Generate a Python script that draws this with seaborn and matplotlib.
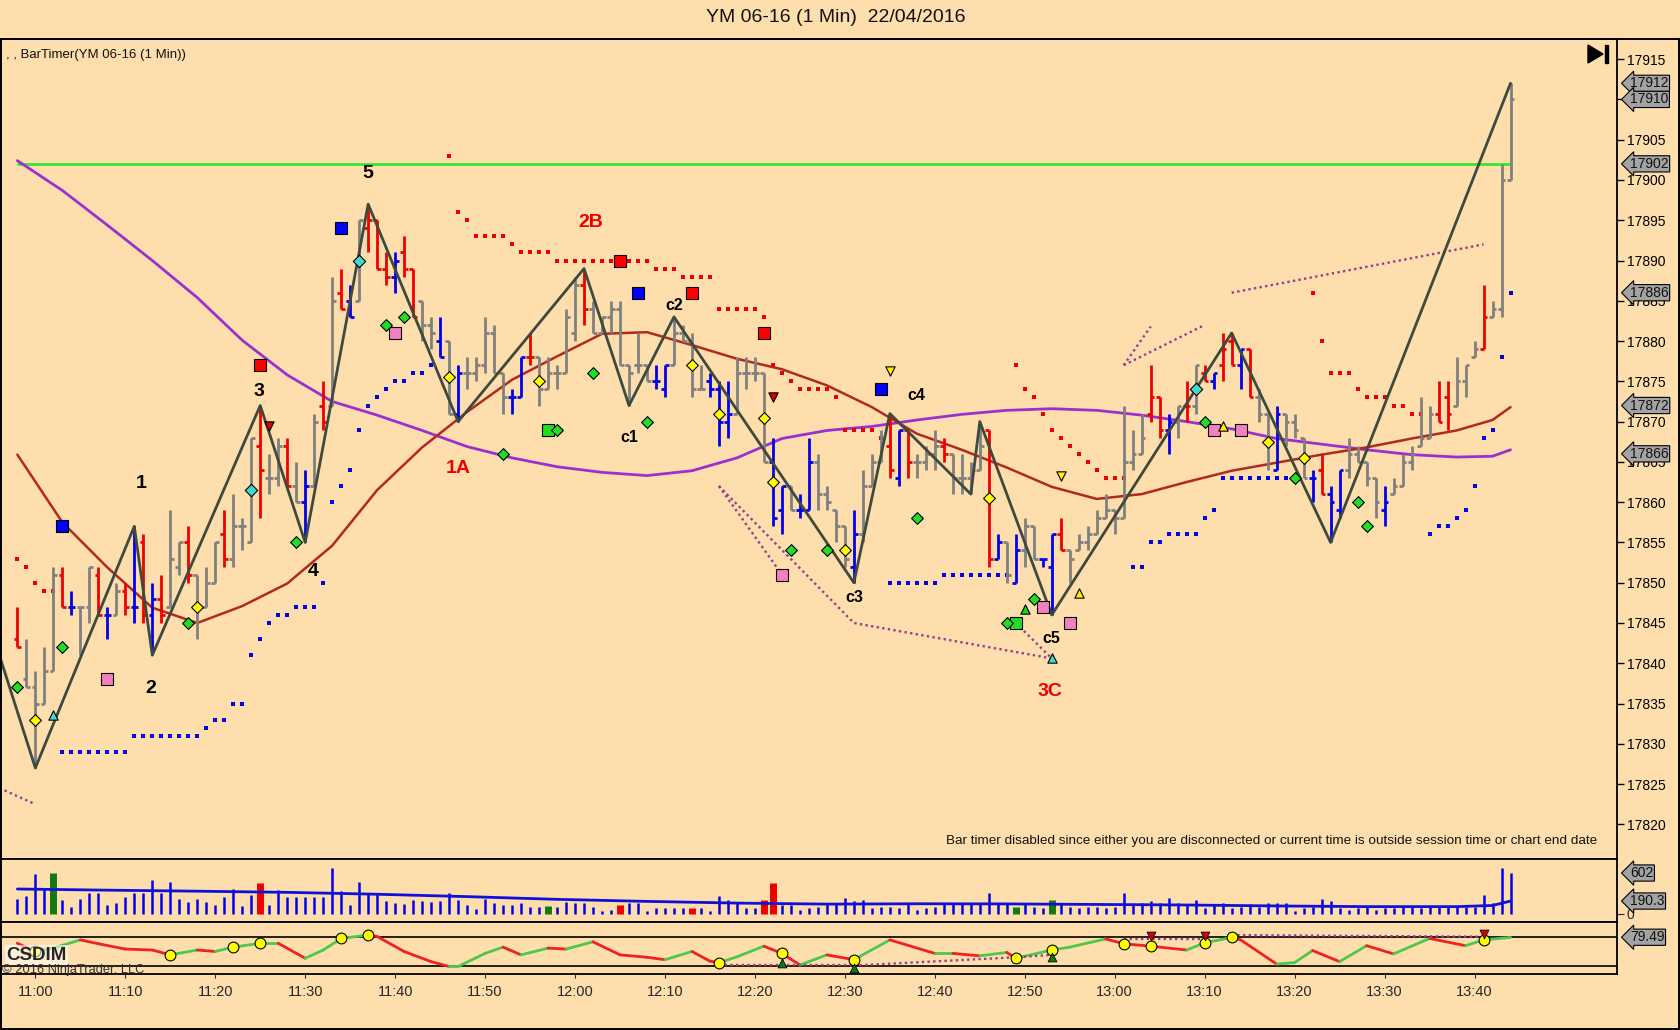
import matplotlib
matplotlib.use("Agg")
import matplotlib.pyplot as plt
from matplotlib.patches import Rectangle, Polygon
import seaborn as sns

BG = "#FFDEAD"

# ---------------- data (minutes after 11:00, first bar 10:58) ----------------
minutes = list(range(-2, 165))

opens = [17843, 17838, 17837, 17835, 17839, 17851, 17847, 17847, 17847, 17851,
         17846, 17846, 17849, 17847, 17855, 17846, 17848, 17847, 17852, 17855,
         17851, 17847, 17850, 17856, 17853, 17857, 17855, 17867, 17863, 17863,
         17867, 17862, 17860, 17862, 17872, 17872, 17886, 17885, 17885, 17894,
         17895, 17889, 17888, 17891, 17889, 17885, 17882, 17880, 17880, 17871,
         17876, 17876, 17877, 17881, 17876, 17873, 17873, 17878, 17878, 17874,
         17876, 17876, 17881, 17887, 17884, 17881, 17883, 17884, 17877, 17877,
         17877, 17875, 17874, 17877, 17881, 17880, 17874, 17875, 17874, 17870,
         17871, 17876, 17876, 17876, 17865, 17859, 17862, 17859, 17859, 17865,
         17861, 17859, 17857, 17852, 17856, 17862, 17865, 17867, 17863, 17869,
         17865, 17865, 17866, 17867, 17866, 17863, 17863, 17864, 17869, 17853,
         17855, 17850, 17854, 17857, 17853, 17852, 17856, 17854, 17854, 17855,
         17856, 17858, 17859, 17858, 17865, 17866, 17871, 17873, 17869, 17870,
         17872, 17872, 17876, 17875, 17877, 17880, 17877, 17879, 17873, 17871,
         17864, 17871, 17870, 17868, 17863, 17864, 17861, 17859, 17864, 17866,
         17865, 17863, 17859, 17861, 17862, 17865, 17867, 17868, 17871, 17873,
         17872, 17875, 17878, 17879, 17883, 17884, 17900]
highs = [17847, 17843, 17839, 17842, 17852, 17852, 17849, 17847, 17852, 17852,
         17847, 17850, 17850, 17857, 17856, 17850, 17851, 17859, 17855, 17857,
         17851, 17852, 17855, 17859, 17861, 17858, 17868, 17872, 17866, 17868,
         17868, 17865, 17864, 17871, 17875, 17888, 17889, 17887, 17895, 17897,
         17895, 17891, 17891, 17893, 17889, 17885, 17883, 17883, 17880, 17877,
         17878, 17878, 17883, 17882, 17876, 17874, 17878, 17881, 17878, 17878,
         17877, 17884, 17888, 17889, 17885, 17883, 17885, 17885, 17877, 17881,
         17877, 17877, 17877, 17883, 17882, 17881, 17877, 17876, 17875, 17875,
         17878, 17878, 17878, 17876, 17868, 17862, 17862, 17861, 17868, 17866,
         17862, 17859, 17857, 17859, 17864, 17866, 17869, 17871, 17869, 17869,
         17866, 17867, 17869, 17868, 17866, 17866, 17865, 17870, 17869, 17856,
         17855, 17856, 17858, 17857, 17853, 17856, 17858, 17854, 17856, 17857,
         17859, 17861, 17859, 17872, 17869, 17871, 17877, 17873, 17871, 17872,
         17875, 17877, 17877, 17876, 17881, 17881, 17879, 17879, 17874, 17871,
         17872, 17871, 17871, 17868, 17864, 17866, 17862, 17864, 17868, 17867,
         17865, 17863, 17862, 17863, 17866, 17867, 17873, 17872, 17875, 17875,
         17878, 17877, 17880, 17887, 17885, 17902, 17912]
lows = [17842, 17837, 17827, 17835, 17839, 17847, 17846, 17841, 17845, 17846,
        17843, 17846, 17846, 17845, 17845, 17841, 17845, 17847, 17851, 17850,
        17843, 17847, 17850, 17852, 17852, 17854, 17855, 17858, 17861, 17862,
        17862, 17860, 17855, 17862, 17869, 17872, 17884, 17883, 17885, 17891,
        17889, 17887, 17886, 17888, 17883, 17880, 17879, 17878, 17871, 17870,
        17874, 17875, 17876, 17876, 17871, 17871, 17873, 17877, 17872, 17874,
        17874, 17876, 17880, 17882, 17881, 17881, 17881, 17877, 17872, 17876,
        17875, 17874, 17873, 17877, 17880, 17873, 17874, 17873, 17867, 17868,
        17871, 17874, 17875, 17865, 17857, 17856, 17859, 17858, 17859, 17859,
        17859, 17855, 17852, 17850, 17855, 17862, 17865, 17863, 17862, 17863,
        17863, 17864, 17864, 17865, 17861, 17861, 17861, 17864, 17852, 17853,
        17850, 17850, 17852, 17853, 17852, 17846, 17854, 17850, 17854, 17854,
        17856, 17858, 17856, 17858, 17864, 17866, 17870, 17868, 17866, 17868,
        17870, 17871, 17875, 17874, 17875, 17877, 17874, 17873, 17870, 17864,
        17864, 17867, 17868, 17863, 17860, 17861, 17855, 17858, 17863, 17865,
        17862, 17858, 17857, 17861, 17862, 17864, 17867, 17868, 17870, 17869,
        17872, 17873, 17878, 17879, 17883, 17883, 17900]
closes = [17842, 17837, 17835, 17839, 17851, 17847, 17847, 17847, 17852, 17846,
          17846, 17849, 17847, 17847, 17846, 17848, 17846, 17853, 17855, 17851,
          17847, 17850, 17855, 17853, 17857, 17857, 17868, 17864, 17863, 17867,
          17862, 17860, 17862, 17870, 17870, 17885, 17884, 17883, 17895, 17895,
          17889, 17888, 17890, 17889, 17883, 17882, 17881, 17878, 17871, 17876,
          17876, 17877, 17881, 17876, 17873, 17873, 17878, 17878, 17874, 17876,
          17876, 17883, 17887, 17884, 17881, 17883, 17884, 17877, 17876, 17877,
          17875, 17875, 17877, 17881, 17880, 17874, 17874, 17874, 17870, 17871,
          17876, 17876, 17876, 17865, 17858, 17862, 17859, 17859, 17865, 17861,
          17860, 17857, 17853, 17856, 17862, 17865, 17868, 17864, 17869, 17865,
          17865, 17866, 17867, 17866, 17863, 17863, 17864, 17867, 17853, 17855,
          17851, 17854, 17857, 17853, 17853, 17856, 17854, 17853, 17855, 17856,
          17858, 17859, 17858, 17865, 17866, 17868, 17873, 17869, 17870, 17872,
          17872, 17877, 17875, 17876, 17879, 17877, 17879, 17873, 17871, 17868,
          17871, 17870, 17869, 17863, 17863, 17861, 17860, 17864, 17866, 17865,
          17863, 17860, 17860, 17862, 17865, 17866, 17868, 17871, 17870, 17871,
          17875, 17877, 17879, 17883, 17884, 17900, 17910]
# g = gray, r = red, b = blue bar
bar_kind = ("rggggrbggr" "bgrbrbrggr" "gggrgggrgg" "rgbgrgrbgr" "rrbrrggbgb"
            "gggggbbrgg" "gggrgggggg" "gbbggggbbb" "ggggbbgbbg" "gggbgggrbr"
            "gggrggggrb" "gbggbbrggg" "ggggggrrbg" "rgrbrrbrgg" "bgggbrbbgg"
            "ggbgggggrr" "gggrggg")

volume = [220, 265, 588, 367, 602, 206, 98, 217, 313, 313,
          132, 166, 245, 304, 304, 500, 304, 470, 217, 176,
          225, 176, 132, 245, 363, 122, 284, 456, 132, 353,
          245, 245, 245, 245, 255, 676, 343, 132, 465, 304,
          304, 186, 166, 147, 206, 186, 176, 186, 313, 206,
          132, 73, 225, 166, 127, 137, 157, 98, 108, 113,
          108, 176, 166, 166, 98, 49, 59, 132, 157, 157,
          49, 83, 83, 83, 83, 83, 83, 49, 265, 206,
          176, 83, 83, 206, 451, 132, 132, 59, 83, 108,
          142, 157, 240, 191, 206, 93, 108, 108, 93, 142,
          59, 83, 108, 142, 157, 157, 167, 157, 313, 157,
          167, 108, 142, 108, 83, 206, 167, 108, 93, 108,
          108, 83, 108, 313, 142, 157, 191, 157, 230, 157,
          142, 206, 93, 142, 157, 93, 108, 142, 108, 157,
          157, 167, 49, 83, 108, 216, 191, 93, 59, 93,
          108, 59, 83, 83, 108, 108, 93, 108, 108, 108,
          108, 108, 108, 279, 157, 680, 602]
vol_green = [2, 57, 109, 113]
vol_red = [25, 65, 73, 81, 82]
vma_m = [-2, 8, 18, 28, 38, 48, 58, 68, 78, 88, 98, 108, 118, 128, 138, 148, 158, 162, 164]
vma_v = [367, 350, 335, 318, 290, 255, 215, 185, 160, 145, 150, 148, 140, 132, 118, 108, 108, 125, 190]

# moving averages read every 5 minutes
ma_m = [-2, 3, 8, 13, 18, 23, 28, 33, 38, 43, 48, 53, 58, 63, 68, 73, 78, 83, 88,
        93, 98, 103, 108, 113, 118, 123, 128, 133, 138, 143, 148, 153, 158, 162, 164]
ma_slow = [17902.4, 17898.7, 17894.4, 17890.0, 17885.4, 17880.1, 17875.8, 17872.5,
           17870.8, 17868.9, 17866.9, 17865.5, 17864.4, 17863.7, 17863.3, 17863.9,
           17865.5, 17867.9, 17868.9, 17869.4, 17870.2, 17870.9, 17871.4, 17871.6,
           17871.4, 17870.8, 17870.0, 17869.1, 17867.9, 17867.2, 17866.5, 17865.9,
           17865.6, 17865.7, 17866.5]
ma_fast = [17865.9, 17857.5, 17851.9, 17846.9, 17845.0, 17847.1, 17849.9, 17854.6,
           17861.5, 17866.8, 17871.2, 17875.2, 17878.1, 17880.9, 17881.1, 17879.5,
           17877.8, 17876.5, 17874.5, 17871.8, 17868.5, 17866.5, 17864.3, 17861.9,
           17860.4, 17861.0, 17862.5, 17863.9, 17864.9, 17865.9, 17866.8, 17867.9,
           17868.9, 17870.2, 17871.8]

# zigzag swing points
zz_m = [-4, 0, 11, 13, 25, 30, 37, 47, 61, 66, 71, 91, 95, 104, 105, 113, 133, 144, 164]
zz_p = [17841, 17827, 17857, 17841, 17872, 17855, 17897, 17870, 17889, 17872, 17883,
        17850, 17871, 17861, 17870, 17846, 17881, 17855, 17912]

# stop dots
red_dot_m = [-2, -1, 0, 1, 2,
             46, 47, 48, 49, 50, 51, 52, 53, 54, 55, 56, 57, 58, 59, 60, 61, 62, 63, 64,
             65, 66, 67, 68, 69, 70, 71, 72, 73, 74, 75, 76, 77, 78, 79, 80, 81, 82, 83,
             84, 85, 86, 87, 88, 89, 90, 91, 92, 93, 94,
             109, 110, 111, 112, 113, 114, 115, 116, 117, 118, 119, 120, 121,
             142, 143, 144, 145, 146, 147, 148, 149, 150, 151, 152, 153, 154]
red_dot_p = [17853, 17852, 17850, 17849, 17849,
             17903, 17896, 17895, 17893, 17893, 17893, 17893, 17892, 17891, 17891, 17891,
             17891, 17890, 17890, 17890, 17890, 17890, 17890, 17890, 17890, 17890, 17890,
             17890, 17889, 17889, 17889, 17888, 17888, 17888, 17888, 17884, 17884, 17884,
             17884, 17884, 17883, 17877, 17876, 17875, 17874, 17874, 17874, 17874, 17873,
             17869, 17869, 17869, 17869, 17868,
             17877, 17874, 17873, 17871, 17869, 17868, 17867, 17866, 17865, 17864, 17863,
             17863, 17863,
             17886, 17880, 17876, 17876, 17876, 17874, 17873, 17873, 17873, 17872, 17872,
             17871, 17871]
blue_dot_m = [3, 4, 5, 6, 7, 8, 9, 10, 11, 12, 13, 14, 15, 16, 17, 18, 19, 20, 21, 22, 23,
              24, 25, 26, 27, 28, 29, 30, 31, 32, 33, 34, 35, 36, 37, 38, 39, 40, 41, 42,
              43, 44,
              95, 96, 97, 98, 99, 100, 101, 102, 103, 104, 105, 106, 107, 108,
              122, 123, 124, 125, 126, 127, 128, 129, 130, 131, 132, 133, 134, 135, 136,
              137, 138, 139,
              155, 156, 157, 158, 159, 160, 161, 162, 163, 164]
blue_dot_p = [17829, 17829, 17829, 17829, 17829, 17829, 17829, 17829, 17831, 17831, 17831,
              17831, 17831, 17831, 17831, 17831, 17832, 17833, 17833, 17835, 17835,
              17841, 17843, 17845, 17846, 17846, 17847, 17847, 17847, 17850, 17860, 17862,
              17864, 17869, 17872, 17873, 17874, 17875, 17875, 17876, 17876, 17877,
              17850, 17850, 17850, 17850, 17850, 17850, 17851, 17851, 17851, 17851, 17851,
              17851, 17851, 17851,
              17852, 17852, 17855, 17855, 17856, 17856, 17856, 17856, 17858, 17859, 17863,
              17863, 17863, 17863, 17863, 17863, 17863, 17863,
              17856, 17857, 17857, 17858, 17859, 17862, 17868, 17869, 17878, 17886]

# signal markers
blue_sq_m, blue_sq_p = [3, 34, 67, 94], [17857, 17894, 17886, 17874]
red_sq_m, red_sq_p = [25, 65, 73, 81], [17877, 17890, 17886, 17881]
pink_sq_m = [8, 40, 83, 112, 115, 131, 134]
pink_sq_p = [17838, 17881, 17851, 17847, 17845, 17869, 17869]
green_sq_m, green_sq_p = [57, 109], [17869, 17845]
green_dia_m = [-2, 3, 17, 29, 39, 41, 52, 58, 62, 68, 84, 88, 98, 108, 111, 130, 140, 147, 148]
green_dia_p = [17837, 17842, 17845, 17855, 17882, 17883, 17866, 17869, 17876, 17870, 17854,
               17854, 17858, 17845, 17848, 17870, 17863, 17860, 17857]
yellow_dia_m = [0, 18, 46, 56, 73, 76, 81, 82, 90, 106, 137, 141]
yellow_dia_p = [17833, 17847, 17875.6, 17875, 17877, 17871, 17870.4, 17862.5, 17854,
                17860.5, 17867.5, 17865.5]
cyan_dia_m, cyan_dia_p = [24, 36, 129], [17861.5, 17890, 17874]
red_dn_m, red_dn_p = [26, 82], [17869.4, 17873]
yellow_dn_m, yellow_dn_p = [95, 114], [17876.3, 17863.3]
yellow_up_m, yellow_up_p = [116, 132], [17848.7, 17869.5]
cyan_up_m, cyan_up_p = [2, 113], [17833.6, 17840.6]
green_up_m, green_up_p = [110], [17846.7]

# dotted divergence lines
div_lines = [([-4, 0], [17824.5, 17822.5]),
             ([76, 83], [17862, 17851]),
             ([76, 91, 113], [17862, 17845, 17840.6]),
             ([109, 113], [17845, 17840.6]),
             ([121, 124], [17877, 17881.8]),
             ([121, 130], [17877, 17882]),
             ([133, 161], [17886, 17892])]

# wave labels: text, zigzag index
wave_labels = [("1", 2), ("2", 3), ("3", 4), ("4", 5), ("5", 6), ("1A", 7), ("2B", 8),
               ("c1", 9), ("c2", 10), ("c3", 11), ("c4", 12), ("c5", 15), ("3C", 15)]

# oscillator
osc_m = [-2, 0, 2, 5, 7, 10, 13, 15, 18, 20, 22, 25, 27, 30, 32, 34, 37, 38, 41, 44,
         46, 47, 50, 52, 54, 57, 59, 62, 65, 68, 70, 73, 75, 76, 78, 81, 83, 85, 88, 91,
         95, 100, 102, 105, 108, 109, 113, 115, 119, 121, 124, 128, 130, 133, 134, 138,
         140, 142, 145, 148, 151, 155, 159, 161, 164]
osc_v = [67, 50, 57, 74, 66, 55, 53, 43, 53, 50, 59, 67, 67, 36, 53, 77, 84, 81, 50, 29,
         19, 19, 46, 59, 43, 57, 55, 70, 43, 38, 33, 50, 30, 27, 39, 61, 46, 22, 43, 33,
         74, 46, 46, 41, 48, 36, 53, 59, 76, 66, 61, 53, 68, 79, 74, 24, 27, 52, 29, 62,
         45, 77, 62, 74, 79]
osc_dot_m = [0, 15, 22, 25, 34, 37, 76, 83, 91, 109, 113, 121, 124, 130, 133, 161]
osc_dot_v = [50, 43, 59, 67, 77, 84, 27, 46, 33, 36, 53, 66, 61, 68, 79, 74]
osc_up_m, osc_up_v = [83, 91, 113], [26, 15, 38]
osc_dn_m, osc_dn_v = [124, 130, 161], [83, 83, 87]
osc_div = [([76, 91], [21, 21]), ([91, 109, 113], [21, 38, 43]),
           ([121, 130], [76, 76]), ([133, 161], [84, 80.5])]

time_ticks = list(range(0, 161, 10))
time_labels = ["%d:%02d" % (11 + t // 60, t % 60) for t in time_ticks]
price_ticks = list(range(17820, 17916, 5))

# ---------------- figure ----------------
sns.set_style("white", {"axes.facecolor": BG, "figure.facecolor": BG,
                        "axes.edgecolor": "black"})
plt.rcParams["font.family"] = ["Liberation Sans", "DejaVu Sans"]

W, H = 1680, 1030
TOP = 39


def box(x0, y0, x1, y1):
    return [x0 / W, 1 - y1 / H, (x1 - x0) / W, (y1 - y0) / H]


fig = plt.figure(figsize=(W / 100, H / 100), dpi=100)
fig.patch.set_facecolor(BG)
ax = fig.add_axes(box(0, TOP, 1617, 859))
axv = fig.add_axes(box(0, 859, 1617, 922), sharex=ax)
axo = fig.add_axes(box(0, 922, 1617, 974), sharex=ax)

for a in (ax, axv, axo):
    a.set_facecolor(BG)
    for s in a.spines.values():
        s.set_color("black")
        s.set_linewidth(1.3)
    a.tick_params(axis="x", bottom=False, labelbottom=False)

ax.set_xlim(-3.93, 175.84)
ax.set_ylim(17815.7, 17917.5)

# horizontal level
ax.hlines(17902, -2, 164, color="#33E833", lw=2, zorder=2)

# moving averages
sns.lineplot(x=ma_m, y=ma_slow, ax=ax, color="#9B30D0", lw=2, zorder=3)
sns.lineplot(x=ma_m, y=ma_fast, ax=ax, color="#B02A20", lw=1.8, zorder=3)

# stop dots
sns.scatterplot(x=red_dot_m, y=red_dot_p, ax=ax, marker="s", s=12, color="#EE0000",
                linewidth=0, zorder=4)
sns.scatterplot(x=blue_dot_m, y=blue_dot_p, ax=ax, marker="s", s=12, color="#0000EE",
                linewidth=0, zorder=4)

# OHLC bars
kind_color = {"g": "#808080", "r": "#EE0000", "b": "#0000EE"}
cols = [kind_color[k] for k in bar_kind]
ax.vlines(minutes, lows, highs, colors=cols, lw=2, zorder=5)
ax.hlines(opens, [m - 0.42 for m in minutes], minutes, colors=cols, lw=2, zorder=5)
ax.hlines(closes, minutes, [m + 0.42 for m in minutes], colors=cols, lw=2, zorder=5)

# divergence lines
for xs, ys in div_lines:
    ax.plot(xs, ys, color="#9A3A8E", lw=1.7, ls=(0, (1, 1.4)), zorder=6)

# zigzag
ax.plot(zz_m, zz_p, color="#3E4A3E", lw=2, zorder=6)

# markers
marker_sets = [
    (blue_sq_m, blue_sq_p, "s", 70, "#0000FF"),
    (red_sq_m, red_sq_p, "s", 70, "#FF0000"),
    (pink_sq_m, pink_sq_p, "s", 70, "#F27FBF"),
    (green_sq_m, green_sq_p, "s", 70, "#22DD22"),
    (green_dia_m, green_dia_p, "D", 36, "#22DD22"),
    (yellow_dia_m, yellow_dia_p, "D", 36, "#FFFF00"),
    (cyan_dia_m, cyan_dia_p, "D", 40, "#40D8D0"),
    (red_dn_m, red_dn_p, "v", 45, "#DD0000"),
    (yellow_dn_m, yellow_dn_p, "v", 45, "#FFEE00"),
    (yellow_up_m, yellow_up_p, "^", 45, "#FFEE00"),
    (cyan_up_m, cyan_up_p, "^", 45, "#40D8D0"),
    (green_up_m, green_up_p, "^", 45, "#22CC22"),
]
for xs, ys, mk, sz, c in marker_sets:
    sns.scatterplot(x=xs, y=ys, ax=ax, marker=mk, s=sz, color=c, edgecolor="black",
                    linewidth=0.8, zorder=7)

# wave labels
label_style = {
    "1": (5, 31, 14, "black"), "2": (-1, -24, 14, "black"), "3": (-1, 10, 14, "black"),
    "4": (6, -21, 14, "black"), "5": (0, 22, 14, "black"), "1A": (0, -34, 14, "#EE0000"),
    "2B": (5, 33, 14, "#EE0000"), "c1": (0, -23, 11.5, "black"), "c2": (0, 8, 11.5, "black"),
    "c3": (0, -11, 11.5, "black"), "c4": (19, 13, 11.5, "black"),
    "c5": (0, -17, 11.5, "black"), "3C": (-1, -55, 14, "#EE0000"),
}
for txt, i in wave_labels:
    dx, dy, fs, c = label_style[txt]
    ax.annotate(txt, (zz_m[i], zz_p[i]), xytext=(dx, dy), textcoords="offset points",
                ha="center", va="center", fontsize=fs, fontweight="bold", color=c, zorder=8)

# price axis
ax.yaxis.tick_right()
ax.set_yticks(price_ticks)
ax.tick_params(axis="y", right=True, direction="out", length=5, width=1,
               labelsize=10, pad=2, colors="black")
ax.set_ylabel("")


def badge(a, y, text):
    a.text(1.008, y, text, transform=a.get_yaxis_transform(), ha="left", va="center",
           fontsize=10, clip_on=False, zorder=10, color="#111111",
           bbox=dict(boxstyle="larrow,pad=0.08", fc="#A3A3A3", ec="black", lw=0.8))


for v in (17912, 17910, 17902, 17886, 17872, 17866):
    badge(ax, v, str(v))

ax.text(0.004, 0.988, ", , BarTimer(YM 06-16 (1 Min))", transform=ax.transAxes,
        fontsize=9.5, va="top", ha="left", color="#111111")
ax.text(1597 / 1617, (859 - 841) / (859 - TOP), "Bar timer disabled since either you are "
        "disconnected or current time is outside session time or chart end date",
        transform=ax.transAxes, fontsize=9.7, ha="right", va="center", color="#111111")

# volume panel
vcols = []
vwid = []
for m in minutes:
    if m in vol_green:
        vcols.append("#127A12")
        vwid.append(5)
    elif m in vol_red:
        vcols.append("#EE0000")
        vwid.append(5)
    else:
        vcols.append("#0000EE")
        vwid.append(1.8)
axv.vlines(minutes, 0, volume, colors=vcols, linewidths=vwid, zorder=3)
sns.lineplot(x=vma_m, y=vma_v, ax=axv, color="#1010DD", lw=2, zorder=4)
axv.set_ylim(-118, 808)
axv.yaxis.tick_right()
axv.set_yticks([0])
axv.set_yticklabels(["0"])
axv.tick_params(axis="y", right=True, direction="out", length=5, labelsize=10, pad=2)
axv.set_ylabel("")
badge(axv, 602, "602")
badge(axv, 190.3, "190.3")

# oscillator panel
axo.set_ylim(3.4, 111)
axo.axhline(80, color="black", lw=1.2, zorder=2)
axo.axhline(20, color="black", lw=1.2, zorder=2)
for i in range(len(osc_m) - 1):
    c = "#4CC84C" if osc_v[i + 1] >= osc_v[i] else "#EE2222"
    axo.plot(osc_m[i:i + 2], osc_v[i:i + 2], color=c, lw=2, solid_capstyle="round", zorder=3)
for xs, ys in osc_div:
    axo.plot(xs, ys, color="#9A3A8E", lw=1.7, ls=(0, (1, 1.4)), zorder=4)
sns.scatterplot(x=osc_dot_m, y=osc_dot_v, ax=axo, marker="o", s=60, color="#FFFF00",
                edgecolor="black", linewidth=0.8, zorder=5)
sns.scatterplot(x=osc_up_m, y=osc_up_v, ax=axo, marker="^", s=40, color="#0F7A0F",
                edgecolor="black", linewidth=0.6, zorder=5)
sns.scatterplot(x=osc_dn_m, y=osc_dn_v, ax=axo, marker="v", s=40, color="#DD0000",
                edgecolor="black", linewidth=0.6, zorder=5)
axo.set_yticks([])
axo.set_ylabel("")
badge(axo, 79.49, "79.49")
axo.text(0.004, 0.36, "CSDIM", transform=axo.transAxes, fontsize=13.5, fontweight="bold",
         ha="left", va="center", zorder=7,
         bbox=dict(boxstyle="square,pad=0.08", fc="white", ec="none", alpha=0.55))
axo.text(0.001, 0.08, "\u00a9 2016 NinjaTrader, LLC", transform=axo.transAxes,
         fontsize=9.3, ha="left", va="center", color="#333333", zorder=8)

axo.set_xticks(time_ticks)
axo.set_xticklabels(time_labels)
axo.tick_params(axis="x", bottom=True, labelbottom=True, direction="out", length=3,
                labelsize=10.5, pad=5)

# title, outer frame and the end-of-chart icon
fig.text(836 / W, 1 - 17 / H, "YM 06-16 (1 Min)  22/04/2016", ha="center", va="center",
         fontsize=14, color="#111111")
fig.add_artist(Rectangle((0.5 / W, 1 / H), 1678.5 / W, (1029 - TOP) / H,
                         transform=fig.transFigure, fill=False, ec="black", lw=1.4))
fig.add_artist(Polygon([(1588 / W, 1 - 45 / H), (1588 / W, 1 - 63 / H),
                        (1603 / W, 1 - 54 / H)], closed=True, transform=fig.transFigure,
                       fc="black", ec="black"))
fig.add_artist(Rectangle((1605 / W, 1 - 63 / H), 3 / W, 18 / H, transform=fig.transFigure,
                         fc="black", ec="black"))

fig.savefig("out.png", dpi=100, facecolor=BG)
